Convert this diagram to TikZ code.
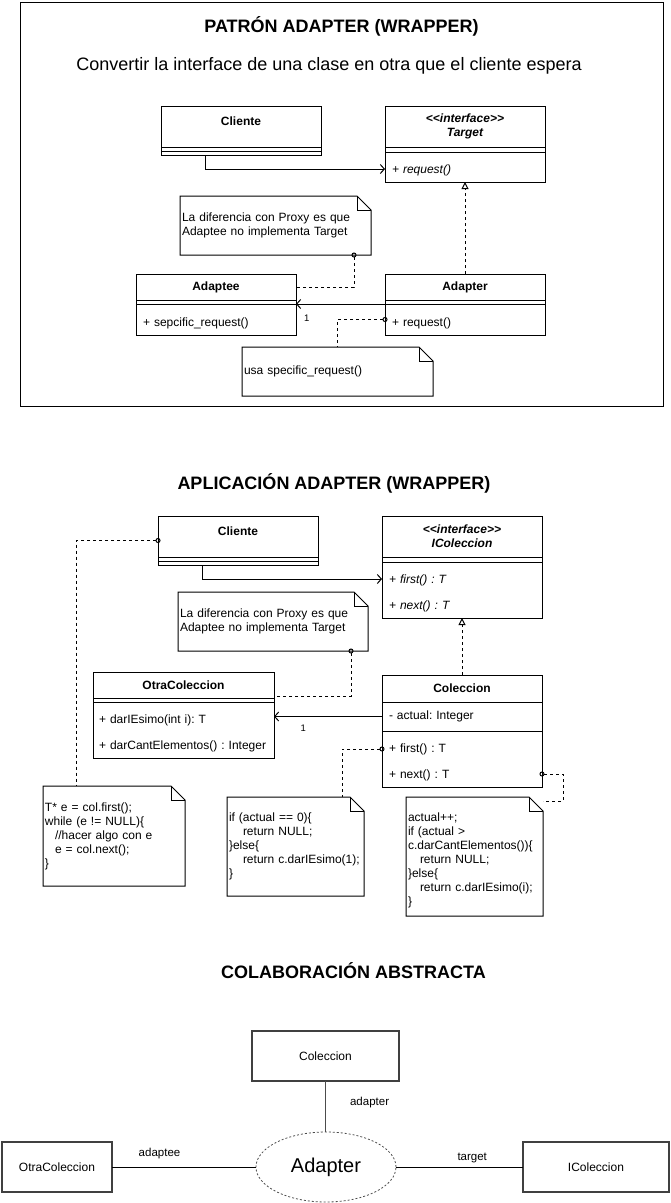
\documentclass[tikz,border=0pt]{standalone}
\usepackage{fontspec}
\setsansfont{Liberation Sans}
\tikzset{every picture/.style={/utils/exec={\sffamily\frenchspacing}}}
\usetikzlibrary{calc}
\usetikzlibrary{positioning}
\usetikzlibrary{arrows.meta,shapes.geometric}
\newcommand{\umlfont}{\fontsize{12}{14}\selectfont}
\newcommand{\titlefont}{\fontsize{18}{22}\selectfont\bfseries}
\newcommand{\rowtop}{\rule{0pt}{16pt}}
\newcommand{\stereo}{<\kern0pt<interface>\kern0pt>}
\newcommand{\noteShape}[1]{
  \draw ($(#1.north east)+(-14,0)$) -- (#1.north west) -- (#1.south west)
    -- (#1.south east) -- ($(#1.north east)+(0,14)$) -- cycle;
  \draw ($(#1.north east)+(-14,0)$) -- ++(0,14) -- ($(#1.north east)+(0,14)$);
}
\tikzset{
  umlhead/.style={draw, fill=white, outer sep=0pt, inner sep=0pt, minimum width=160pt, align=center, font=\umlfont\bfseries},
  umlpart/.style={draw, fill=white, outer sep=0pt, inner sep=0pt, minimum width=160pt, text width=146pt, align=left, font=\umlfont},
  notebox/.style={outer sep=0pt, inner sep=2pt, align=left, font=\umlfont, anchor=north west},
  assoc/.style={-{Straight Barb[length=4pt,width=9pt]}},
  realize/.style={dash pattern=on 3pt off 3pt, -{Triangle[open,length=7pt,width=7pt]}},
  noteline/.style={dash pattern=on 3pt off 3pt, {Circle[open,length=5pt,width=5pt]}-, shorten <=-2.5pt},
  mult/.style={font=\fontsize{9.5}{11}\selectfont, inner sep=0pt},
  role/.style={font=\fontsize{11.5}{13}\selectfont, inner sep=0pt},
}

\begin{document}
\begin{tikzpicture}[x=1pt, y=-1pt, line width=1pt]
  \useasboundingbox (0,0) rectangle (670,1203);

  % patron
  \draw (20,2) rectangle (663,406);
  \node[font=\titlefont] (title1) at (341.5,26) {PATRÓN ADAPTER (WRAPPER)};
  \node[font=\fontsize{18}{22}\selectfont] (lead) at (329,66) {Convertir la interface de una clase en otra que el cliente espera};

  \node[umlhead, anchor=north west, text height=19pt, text depth=22pt] (cliente) at (161,106) {Cliente};
  \node[umlpart, minimum height=4pt, below=0pt of cliente] (clienteAttr) {};
  \node[umlpart, minimum height=4pt, below=0pt of clienteAttr] (clienteOps) {};

  \node[umlhead, anchor=north west, minimum height=41pt, font=\umlfont\bfseries\itshape] (target) at (385,106) {\stereo\\Target};
  \node[umlpart, minimum height=5pt, below=0pt of target] (targetAttr) {};
  \node[umlpart, minimum height=30pt, below=0pt of targetAttr] (targetOps) {\rowtop\itshape + request()};

  \node[umlhead, anchor=north west, minimum height=26pt] (adaptee) at (136,274) {Adaptee};
  \node[umlpart, minimum height=4pt, below=0pt of adaptee] (adapteeAttr) {};
  \node[umlpart, minimum height=31pt, below=0pt of adapteeAttr] (adapteeOps) {\rowtop+ sepcific\_request()};

  \node[umlhead, anchor=north west, minimum height=26pt] (adapter) at (385,274) {Adapter};
  \node[umlpart, minimum height=4pt, below=0pt of adapter] (adapterAttr) {};
  \node[umlpart, minimum height=31pt, below=0pt of adapterAttr] (adapterOps) {\rowtop+ request()};

  \node[notebox, text width=187pt, minimum height=59pt] (diffNote) at (180,196) {La diferencia con Proxy es que\\Adaptee no implementa Target};
  \noteShape{diffNote}
  \node[notebox, text width=187pt, minimum height=49pt] (usaNote) at (242,347) {usa specific\_request()};
  \noteShape{usaNote}

  \draw[assoc] ($(clienteOps.south west)!0.28!(clienteOps.south east)$) |- ($(targetOps.west)+(0,2)$);
  \draw[realize] (adapter.north) -- (targetOps.south);
  \draw[assoc] (adapterAttr.south west) -- (adapteeAttr.south east)
    node[mult, pos=0.88, below=10pt] (oneTop) {1};
  \draw[noteline] ($(diffNote.south east)+(-17,0)$) |- (adaptee.east);
  \draw[noteline] (adapterOps.west) -| (usaNote.north);

  % aplicacion
  \node[font=\titlefont] (title2) at (334,483) {APLICACIÓN ADAPTER (WRAPPER)};

  \node[umlhead, anchor=north west, text height=19pt, text depth=22pt] (cliente2) at (158,516) {Cliente};
  \node[umlpart, minimum height=4pt, below=0pt of cliente2] (cliente2Attr) {};
  \node[umlpart, minimum height=4pt, below=0pt of cliente2Attr] (cliente2Ops) {};

  \node[umlhead, anchor=north west, minimum height=41pt, font=\umlfont\bfseries\itshape] (icoleccion) at (382,516) {\stereo\\IColeccion};
  \node[umlpart, minimum height=5pt, below=0pt of icoleccion] (icoleccionAttr) {};
  \node[umlpart, minimum height=56pt, below=0pt of icoleccionAttr] (icoleccionOps) {\rowtop\itshape + first() : T\\[12pt]+ next() : T};

  \node[umlhead, anchor=north west, minimum width=181pt, minimum height=26pt] (otra) at (93,672) {OtraColeccion};
  \node[umlpart, minimum width=181pt, text width=169pt, minimum height=4pt, below=0pt of otra] (otraAttr) {};
  \node[umlpart, minimum width=181pt, text width=169pt, minimum height=56pt, below=0pt of otraAttr] (otraOps) {\rowtop+ darIEsimo(int i): T\\[12pt]+ darCantElementos() : Integer};

  \node[umlhead, anchor=north west, minimum height=27pt] (coleccion) at (382,675) {Coleccion};
  \node[umlpart, minimum height=29pt, below=0pt of coleccion] (coleccionAttr) {- actual: Integer};
  \node[umlpart, minimum height=56pt, below=0pt of coleccionAttr] (coleccionOps) {\rowtop+ first() : T\\[12pt]+ next() : T};

  \node[notebox, text width=186pt, minimum height=59pt] (diffNote2) at (178,592) {La diferencia con Proxy es que\\Adaptee no implementa Target};
  \noteShape{diffNote2}
  \node[notebox, text width=138pt, minimum height=100pt] (clientCode) at (43,786) {T* e = col.first();\\while (e != NULL)\{\\\hspace*{10pt}//hacer algo con e\\\hspace*{10pt}e = col.next();\\\}};
  \noteShape{clientCode}
  \node[notebox, text width=133pt, minimum height=99pt] (firstCode) at (227,797) {if (actual == 0)\{\\\hspace*{14pt}return NULL;\\\}else\{\\\hspace*{14pt}return c.darIEsimo(1);\\\}};
  \noteShape{firstCode}
  \node[notebox, text width=133pt, minimum height=119pt] (nextCode) at (406,797) {\rowtop actual++;\\if (actual >\\c.darCantElementos())\{\\\hspace*{12pt}return NULL;\\\}else\{\\\hspace*{12pt}return c.darIEsimo(i);\\\}};
  \noteShape{nextCode}

  \draw[assoc] ($(cliente2Ops.south west)!0.28!(cliente2Ops.south east)$) |- ($(icoleccionOps.north west)+(0,17)$);
  \draw[realize] (coleccion.north) -- (icoleccionOps.south);
  \draw[assoc] (coleccionAttr.west) -- (coleccionAttr.west -| otraOps.east)
    node[mult, pos=0.73, below=8pt] (oneMid) {1};
  \draw[noteline] ($(diffNote2.south east)+(-17,0)$) |- ($(otra.east)+(0,11)$);
  \draw[noteline] ($(coleccionOps.north west)+(0,18)$) -| ($(firstCode.north east)+(-22,0)$);
  \draw[noteline] ($(coleccionOps.south east)+(0,-13)$) -- ++(21,0) |- ($(nextCode.north east)+(0,4)$);
  \draw[noteline] ($(cliente2.west)+(0,4)$) -| ($(clientCode.north west)+(33,0)$);

  % colaboracion
  \node[font=\titlefont] (title3) at (353.5,971) {COLABORACIÓN ABSTRACTA};
  \begin{scope}[every node/.style={draw=black!75, line width=1.3pt, outer sep=0pt, minimum height=50pt, font=\umlfont}]
    \node[minimum width=147pt] (colBox) at (325.5,1056) {Coleccion};
    \node[minimum width=110pt] (otraBox) at (57,1167) {OtraColeccion};
    \node[minimum width=146pt] (icolBox) at (596,1167) {IColeccion};
  \end{scope}
  \node[ellipse, draw=black!70, line width=0.8pt, dash pattern=on 2pt off 2pt, minimum width=140pt, minimum height=70pt, inner sep=0pt, outer sep=0pt, font=\fontsize{20}{24}\selectfont] (adapterRole) at (326,1167) {Adapter};

  \draw[black!70, line width=1.2pt] (colBox.south) -- (colBox.south |- adapterRole.north)
    node[role, black, pos=0.43, right=24pt] (adapterLbl) {adapter};
  \draw (otraBox.east) -- (adapterRole.west)
    node[role, pos=0.33, above=8pt] (adapteeLbl) {adaptee};
  \draw (adapterRole.east) -- (icolBox.west)
    node[role, pos=0.6, above=4pt] (targetLbl) {target};
\end{tikzpicture}
\end{document}
